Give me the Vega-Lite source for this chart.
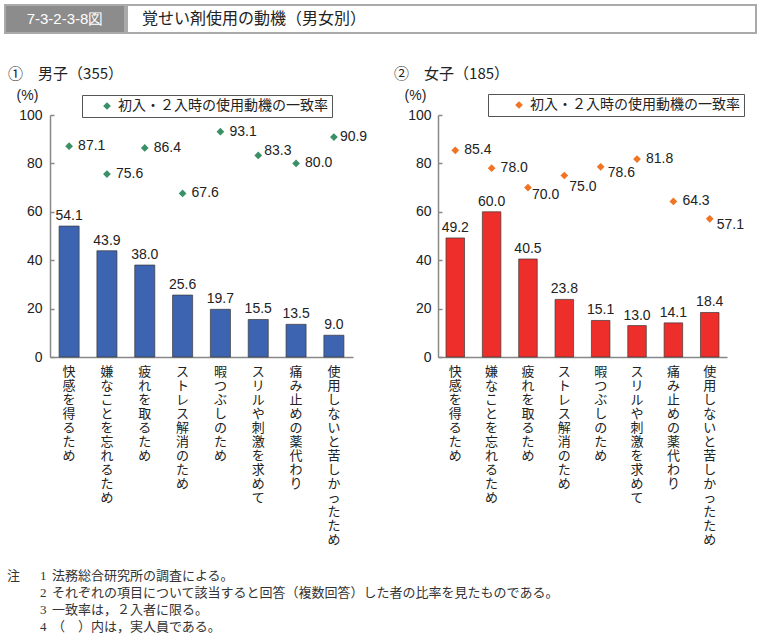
{
  "$schema": "https://vega.github.io/schema/vega-lite/v6.json",
  "padding": {"left": 4, "top": 4, "right": 3, "bottom": 3},
  "background": "white",
  "config": {
    "view": {"stroke": null},
    "font": "Noto Sans CJK JP",
    "text": {"color": "#222"}
  },
  "datasets": {
    "male": [
      {"cat": "快感を得るため", "share": 54.1, "match": 87.1},
      {"cat": "嫌なことを忘れるため", "share": 43.9, "match": 75.6},
      {"cat": "疲れを取るため", "share": 38.0, "match": 86.4},
      {"cat": "ストレス解消のため", "share": 25.6, "match": 67.6},
      {"cat": "暇つぶしのため", "share": 19.7, "match": 93.1},
      {"cat": "スリルや刺激を求めて", "share": 15.5, "match": 83.3},
      {"cat": "痛み止めの薬代わり", "share": 13.5, "match": 80.0},
      {"cat": "使用しないと苦しかったため", "share": 9.0, "match": 90.9}
    ],
    "female": [
      {"cat": "快感を得るため", "share": 49.2, "match": 85.4},
      {"cat": "嫌なことを忘れるため", "share": 60.0, "match": 78.0},
      {"cat": "疲れを取るため", "share": 40.5, "match": 70.0},
      {"cat": "ストレス解消のため", "share": 23.8, "match": 75.0},
      {"cat": "暇つぶしのため", "share": 15.1, "match": 78.6},
      {"cat": "スリルや刺激を求めて", "share": 13.0, "match": 81.8},
      {"cat": "痛み止めの薬代わり", "share": 14.1, "match": 64.3},
      {"cat": "使用しないと苦しかったため", "share": 18.4, "match": 57.1}
    ]
  },
  "resolve": {"scale": {"color": "independent"}, "legend": {"color": "independent"}},
  "columns": 1,
  "align": "none",
  "spacing": 33,
  "concat": [
    {
      "spacing": 0,
      "hconcat": [
        {
          "width": 120,
          "height": 28,
          "view": {"fill": "#8c8c8c", "stroke": "#aaaaaa", "strokeWidth": 2},
          "data": {"values": [{"t": "7-3-2-3-8図"}]},
          "mark": {"type": "text", "color": "white", "font": "Liberation Sans", "fontSize": 15, "align": "center", "baseline": "middle"},
          "encoding": {
            "text": {"field": "t", "type": "nominal"},
            "x": {"datum": 0.5, "type": "quantitative", "scale": {"domain": [0, 1]}, "axis": null},
            "y": {"datum": 0.5, "type": "quantitative", "scale": {"domain": [0, 1]}, "axis": null}
          }
        },
        {
          "width": 629,
          "height": 28,
          "view": {"stroke": "#aaaaaa", "strokeWidth": 2},
          "data": {"values": [{"t": "覚せい剤使用の動機（男女別）"}]},
          "mark": {"type": "text", "color": "#222", "font": "Noto Sans CJK JP", "fontSize": 16, "align": "left", "baseline": "middle", "dx": 15},
          "encoding": {
            "text": {"field": "t", "type": "nominal"},
            "x": {"datum": 0, "type": "quantitative", "scale": {"domain": [0, 1]}, "axis": null},
            "y": {"datum": 0.5, "type": "quantitative", "scale": {"domain": [0, 1]}, "axis": null}
          }
        }
      ]
    },
    {
      "columns": 1,
      "align": "none",
      "spacing": 21,
      "resolve": {"scale": {"color": "independent"}, "legend": {"color": "independent"}},
      "concat": [
        {
          "spacing": 0,
          "bounds": "flush",
          "resolve": {"scale": {"color": "independent"}, "legend": {"color": "independent"}},
          "hconcat": [
            {
              "width": 45,
              "height": 10,
              "data": {"values": []},
              "mark": {"type": "point", "opacity": 0},
              "encoding": {}
            },
            {
              "spacing": 85,
              "bounds": "flush",
              "resolve": {"scale": {"color": "independent"}, "legend": {"color": "independent"}},
              "hconcat": [
                {
                  "width": 303,
                  "height": 242,
                  "title": {"text": "①　男子（355）", "anchor": "start", "dx": -8, "offset": 6, "fontSize": 15, "font": "Noto Sans CJK JP", "fontWeight": "normal", "color": "#222"},
                  "data": {"name": "male"},
                  "encoding": {
                    "x": {
                      "field": "cat", "type": "nominal", "sort": null,
                      "scale": {"paddingInner": 0.47, "paddingOuter": 0.24},
                      "axis": {"title": null, "labelAngle": 0, "labelExpr": "split(datum.label, '')", "labelAlign": "center", "labelBaseline": "top", "labelLineHeight": 14, "labelFont": "Noto Sans CJK JP", "labelFontSize": 13, "labelColor": "#222", "ticks": false, "domainColor": "#888", "domainWidth": 1.5, "labelPadding": 8, "labelOverlap": false, "labelLimit": 0}
                    }
                  },
                  "layer": [
                    {
                      "mark": {"type": "bar", "color": "#3d64b0", "stroke": "#3a3a3a", "strokeWidth": 0.7},
                      "encoding": {
                        "y": {"field": "share", "type": "quantitative", "scale": {"domain": [0, 100]},
                          "axis": {"title": "(%)", "titleAngle": 0, "titleX": -23, "titleY": -20, "titleAlign": "center", "titleBaseline": "middle", "titleFont": "Liberation Sans", "titleFontSize": 14, "titleFontWeight": "normal", "titleColor": "#222", "values": [0, 20, 40, 60, 80, 100], "grid": false, "domainColor": "#888", "domainWidth": 1.5, "tickColor": "#888", "tickSize": -4, "tickWidth": 1.5, "labelPadding": 12, "labelFont": "Liberation Sans", "labelFontSize": 14, "labelColor": "#222"}}
                      }
                    },
                    {
                      "mark": {"type": "text", "baseline": "bottom", "dy": -3, "font": "Liberation Sans", "fontSize": 14, "color": "#222"},
                      "encoding": {
                        "y": {"field": "share", "type": "quantitative"},
                        "text": {"field": "share", "type": "quantitative", "format": ".1f"}
                      }
                    },
                    {
                      "mark": {"type": "point", "shape": "diamond", "filled": true, "size": 60, "opacity": 1},
                      "encoding": {
                        "y": {"field": "match", "type": "quantitative"},
                        "color": {"datum": "初入・２入時の使用動機の一致率", "type": "nominal", "scale": {"range": ["#3a9066"]},
                          "legend": {"orient": "none", "legendX": 32, "legendY": -20, "title": null, "strokeColor": "#555", "fillColor": "white", "padding": 4, "symbolType": "diamond", "symbolSize": 60, "symbolOffset": 14, "labelOffset": 4, "labelFont": "Noto Sans CJK JP", "labelFontSize": 14, "labelColor": "#222", "labelLimit": 400}}
                      }
                    },
                    {
                      "transform": [{"filter": {"not": {"field": "cat", "oneOf": ["スリルや刺激を求めて", "使用しないと苦しかったため"]}}}],
                      "mark": {"type": "text", "align": "left", "baseline": "middle", "dx": 9, "font": "Liberation Sans", "fontSize": 14, "color": "#222"},
                      "encoding": {
                        "y": {"field": "match", "type": "quantitative"},
                        "text": {"field": "match", "type": "quantitative", "format": ".1f"}
                      }
                    },
                    {
                      "transform": [{"filter": {"field": "cat", "equal": "スリルや刺激を求めて"}}],
                      "mark": {"type": "text", "align": "left", "baseline": "middle", "dx": 6, "dy": -4, "font": "Liberation Sans", "fontSize": 14, "color": "#222"},
                      "encoding": {
                        "y": {"field": "match", "type": "quantitative"},
                        "text": {"field": "match", "type": "quantitative", "format": ".1f"}
                      }
                    },
                    {
                      "transform": [{"filter": {"field": "cat", "equal": "使用しないと苦しかったため"}}],
                      "mark": {"type": "text", "align": "left", "baseline": "middle", "dx": 6, "font": "Liberation Sans", "fontSize": 14, "color": "#222"},
                      "encoding": {
                        "y": {"field": "match", "type": "quantitative"},
                        "text": {"field": "match", "type": "quantitative", "format": ".1f"}
                      }
                    }
                  ]
                },
                {
                  "width": 289,
                  "height": 242,
                  "title": {"text": "②　女子（185）", "anchor": "start", "dx": -10, "offset": 6, "fontSize": 15, "font": "Noto Sans CJK JP", "fontWeight": "normal", "color": "#222"},
                  "data": {"name": "female"},
                  "encoding": {
                    "x": {
                      "field": "cat", "type": "nominal", "sort": null,
                      "scale": {"paddingInner": 0.49, "paddingOuter": 0.22},
                      "axis": {"title": null, "labelAngle": 0, "labelExpr": "split(datum.label, '')", "labelAlign": "center", "labelBaseline": "top", "labelLineHeight": 14, "labelFont": "Noto Sans CJK JP", "labelFontSize": 13, "labelColor": "#222", "ticks": false, "domainColor": "#888", "domainWidth": 1.5, "labelPadding": 8, "labelOverlap": false, "labelLimit": 0}
                    }
                  },
                  "layer": [
                    {
                      "mark": {"type": "bar", "color": "#ee2e2a", "stroke": "#3a3a3a", "strokeWidth": 0.7},
                      "encoding": {
                        "y": {"field": "share", "type": "quantitative", "scale": {"domain": [0, 100]},
                          "axis": {"title": "(%)", "titleAngle": 0, "titleX": -23, "titleY": -20, "titleAlign": "center", "titleBaseline": "middle", "titleFont": "Liberation Sans", "titleFontSize": 14, "titleFontWeight": "normal", "titleColor": "#222", "values": [0, 20, 40, 60, 80, 100], "grid": false, "domainColor": "#888", "domainWidth": 1.5, "tickColor": "#888", "tickSize": -4, "tickWidth": 1.5, "labelPadding": 11, "labelFont": "Liberation Sans", "labelFontSize": 14, "labelColor": "#222"}}
                      }
                    },
                    {
                      "mark": {"type": "text", "baseline": "bottom", "dy": -3, "font": "Liberation Sans", "fontSize": 14, "color": "#222"},
                      "encoding": {
                        "y": {"field": "share", "type": "quantitative"},
                        "text": {"field": "share", "type": "quantitative", "format": ".1f"}
                      }
                    },
                    {
                      "mark": {"type": "point", "shape": "diamond", "filled": true, "size": 60, "opacity": 1},
                      "encoding": {
                        "y": {"field": "match", "type": "quantitative"},
                        "color": {"datum": "初入・２入時の使用動機の一致率", "type": "nominal", "scale": {"range": ["#f07424"]},
                          "legend": {"orient": "none", "legendX": 50, "legendY": -21, "title": null, "strokeColor": "#555", "fillColor": "white", "padding": 4, "symbolType": "diamond", "symbolSize": 60, "symbolOffset": 20, "labelOffset": 4, "labelFont": "Noto Sans CJK JP", "labelFontSize": 14, "labelColor": "#222", "labelLimit": 400}}
                      }
                    },
                    {
                      "transform": [{"filter": {"field": "cat", "oneOf": ["快感を得るため", "嫌なことを忘れるため", "スリルや刺激を求めて", "痛み止めの薬代わり"]}}],
                      "mark": {"type": "text", "align": "left", "baseline": "middle", "dx": 9, "font": "Liberation Sans", "fontSize": 14, "color": "#222"},
                      "encoding": {
                        "y": {"field": "match", "type": "quantitative"},
                        "text": {"field": "match", "type": "quantitative", "format": ".1f"}
                      }
                    },
                    {
                      "transform": [{"filter": {"field": "cat", "equal": "疲れを取るため"}}],
                      "mark": {"type": "text", "align": "left", "baseline": "middle", "dx": 4, "dy": 7, "font": "Liberation Sans", "fontSize": 14, "color": "#222"},
                      "encoding": {
                        "y": {"field": "match", "type": "quantitative"},
                        "text": {"field": "match", "type": "quantitative", "format": ".1f"}
                      }
                    },
                    {
                      "transform": [{"filter": {"field": "cat", "equal": "ストレス解消のため"}}],
                      "mark": {"type": "text", "align": "left", "baseline": "middle", "dx": 5, "dy": 11, "font": "Liberation Sans", "fontSize": 14, "color": "#222"},
                      "encoding": {
                        "y": {"field": "match", "type": "quantitative"},
                        "text": {"field": "match", "type": "quantitative", "format": ".1f"}
                      }
                    },
                    {
                      "transform": [{"filter": {"field": "cat", "oneOf": ["暇つぶしのため", "使用しないと苦しかったため"]}}],
                      "mark": {"type": "text", "align": "left", "baseline": "middle", "dx": 7, "dy": 6, "font": "Liberation Sans", "fontSize": 14, "color": "#222"},
                      "encoding": {
                        "y": {"field": "match", "type": "quantitative"},
                        "text": {"field": "match", "type": "quantitative", "format": ".1f"}
                      }
                    }
                  ]
                }
              ]
            }
          ]
        },
        {
          "width": 600,
          "height": 68,
          "data": {"values": [
            {"n": 1, "head": "注", "num": "1", "text": "法務総合研究所の調査による。"},
            {"n": 2, "head": "", "num": "2", "text": "それぞれの項目について該当すると回答（複数回答）した者の比率を見たものである。"},
            {"n": 3, "head": "", "num": "3", "text": "一致率は，２入者に限る。"},
            {"n": 4, "head": "", "num": "4", "text": "（　）内は，実人員である。"}
          ]},
          "encoding": {
            "y": {"field": "n", "type": "ordinal", "axis": null},
            "x": {"datum": 0, "type": "quantitative", "scale": {"domain": [0, 1]}, "axis": null}
          },
          "layer": [
            {
              "mark": {"type": "text", "align": "left", "baseline": "middle", "dx": 2, "font": "Noto Sans CJK JP", "fontSize": 13, "color": "#333"},
              "encoding": {"text": {"field": "head", "type": "nominal"}}
            },
            {
              "mark": {"type": "text", "align": "left", "baseline": "middle", "dx": 35, "font": "Liberation Serif", "fontSize": 13, "color": "#333"},
              "encoding": {"text": {"field": "num", "type": "nominal"}}
            },
            {
              "mark": {"type": "text", "align": "left", "baseline": "middle", "dx": 47, "font": "Noto Sans CJK JP", "fontSize": 13, "color": "#333"},
              "encoding": {"text": {"field": "text", "type": "nominal"}}
            }
          ]
        }
      ]
    }
  ]
}
